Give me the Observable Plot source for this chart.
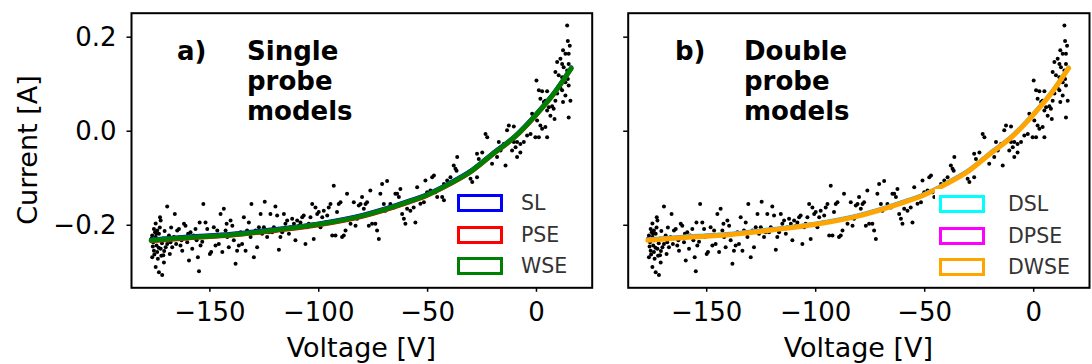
<!DOCTYPE html>
<html>
<head>
<meta charset="utf-8">
<script src="https://cdn.jsdelivr.net/npm/d3@7"></script>
<script src="https://cdn.jsdelivr.net/npm/@observablehq/plot@0.6"></script>
<style>
  html, body { margin: 0; padding: 0; background: #fff; }
  #fig { position: relative; width: 1092px; height: 364px; font-family: "DejaVu Sans", sans-serif; color: #000; overflow: hidden; }
  #fig svg { position: absolute; top: 0; }
  .lbl { position: absolute; white-space: nowrap; font-size: 27px; line-height: 1; }
  .ann { position: absolute; font-weight: bold; font-size: 26px; line-height: 30px; white-space: pre; }
  .legend { position: absolute; background: #fff; }
  .legend .row { position: absolute; left: 0; height: 18px; }
  .legend .sw { position: absolute; left: 4px; width: 40px; height: 12px; border: 3px solid; background: #fff; }
  .legend .tx { position: absolute; top: -2px; font-size: 20.5px; color: #333; line-height: 22px; }
</style>
</head>
<body>
<div id="fig"></div>
<script>
// ---- measured data (Voltage [V], Current [A]) ----
const voltage = [
-169.6,-172.9,-172.6,-174.9,-175.7,-174.2,-176.5,-174.9,-173.4,-176.0,-174.5,-175.7,-174.2,-172.6,-176.5,-173.9,-174.9,-173.4,-171.9,-171.1,
-171.4,-170.3,-169.6,-168.8,-168.1,-167.3,-166.5,-168.4,-166.1,-165.0,-164.2,-163.5,-162.7,-161.9,-162.7,-161.2,-160.4,-159.6,-158.9,-158.1,
-156.6,-156.1,-155.5,-155.0,-154.3,-153.0,-154.7,-152.0,-151.2,-150.9,-150.0,-149.4,-148.2,-147.4,-146.6,-145.9,-145.1,-144.3,-143.6,-142.8,
-142.3,-142.0,-141.3,-140.5,-139.7,-139.0,-138.2,-137.5,-136.7,-135.9,-135.2,-134.4,-133.6,-132.9,-132.1,-131.3,-130.9,-129.8,-129.0,-128.3,
-127.5,-126.7,-126.0,-125.2,-124.8,-123.7,-122.9,-122.2,-121.4,-120.6,-119.9,-119.1,-118.3,-117.6,-116.8,-116.0,-115.3,-114.5,-113.7,-113.0,
-112.2,-111.4,-110.7,-109.9,-109.1,-108.4,-107.6,-106.9,-106.1,-105.3,-104.6,-103.8,-103.0,-102.3,-101.5,-100.7,-100.0,-99.2,-98.4,-97.7,
-96.9,-96.1,-95.4,-94.6,-93.8,-93.1,-92.3,-91.6,-90.8,-90.0,-89.3,-88.5,-87.7,-87.0,-85.4,-83.9,-83.1,-82.4,-81.6,-80.8,
-80.1,-79.3,-78.5,-77.8,-77.0,-76.3,-75.5,-74.0,-73.2,-72.4,-71.7,-70.9,-70.1,-69.4,-68.6,-67.1,-65.5,-64.8,-64.0,-63.2,
-62.5,-61.7,-60.9,-60.2,-59.4,-57.9,-56.4,-55.6,-54.8,
-27.3,-26.5,-27.3,-28.8,-29.5,-31.8,-30.3,-29.5,-33.4,-34.9,-36.4,-38.0,-37.2,-36.7,-39.5,-41.0,-42.5,-43.3,-42.5,-45.6,
-46.4,-47.1,-47.9,-48.7,-50.2,-51.0,-51.7,-53.3,
14.1,14.4,15.3,12.2,13.3,14.8,11.0,9.5,11.8,14.8,12.5,14.1,8.7,10.2,11.8,14.4,13.3,14.8,11.0,11.8,
9.5,13.3,15.6,12.2,14.8,8.7,7.9,7.2,8.3,6.4,4.9,3.4,0.0,1.1,2.6,4.9,1.8,4.1,5.7,-1.2,
-2.0,0.3,1.8,2.6,4.1,4.9,1.1,-0.5,-2.7,-4.3,-5.8,-7.4,-8.9,-10.4,-9.6,-11.2,-7.4,-8.9,-10.4,-12.7,
-13.5,-15.0,-16.5,-17.3,-18.1,-19.6,-20.4,-21.9,-22.6,-23.4,-24.9,-14.2,
-175.2,-173.0,-171.5,-176.2,-174.0,-172.0,-170.8,-175.5,-173.5,-171.0,-176.8,-174.6,-172.3,-169.0,-167.8,-165.5,-163.0,-160.0,-157.5,-153.5
];
const current = [
-0.160,-0.183,-0.190,-0.196,-0.208,-0.211,-0.222,-0.225,-0.218,-0.236,-0.243,-0.254,-0.257,-0.250,-0.268,-0.271,-0.289,-0.300,-0.306,-0.279,
-0.264,-0.247,-0.240,-0.222,-0.236,-0.247,-0.225,-0.261,-0.176,-0.211,-0.208,-0.243,-0.225,-0.197,-0.254,-0.201,-0.236,-0.275,-0.215,-0.250,
-0.208,-0.232,-0.268,-0.298,-0.243,-0.155,-0.194,-0.194,-0.208,-0.225,-0.261,-0.257,-0.204,-0.243,-0.211,-0.240,-0.176,-0.257,-0.165,-0.211,
-0.197,-0.225,-0.247,-0.190,-0.201,-0.232,-0.282,-0.254,-0.243,-0.215,-0.240,-0.183,-0.254,-0.211,-0.194,-0.225,-0.155,-0.268,-0.211,-0.247,
-0.204,-0.176,-0.218,-0.204,-0.150,-0.225,-0.215,-0.176,-0.215,-0.204,-0.160,-0.179,-0.252,-0.225,-0.215,-0.176,-0.197,-0.190,-0.218,-0.204,
-0.186,-0.197,-0.232,-0.190,-0.201,-0.194,-0.183,-0.179,-0.240,-0.204,-0.197,-0.183,-0.155,-0.229,-0.162,-0.176,-0.172,-0.204,-0.183,-0.169,
-0.194,-0.179,-0.162,-0.155,-0.222,-0.116,-0.222,-0.172,-0.155,-0.151,-0.225,-0.222,-0.211,-0.133,-0.197,-0.151,-0.201,-0.186,-0.158,-0.155,
-0.140,-0.165,-0.155,-0.151,-0.201,-0.126,-0.197,-0.197,-0.211,-0.229,-0.133,-0.112,-0.155,-0.169,-0.106,-0.155,-0.162,-0.133,-0.133,-0.140,
-0.123,-0.176,-0.186,-0.197,-0.165,-0.169,-0.162,-0.194,-0.119,
-0.048,-0.059,-0.098,-0.080,-0.084,-0.091,-0.101,-0.108,-0.094,-0.098,-0.055,-0.073,-0.080,-0.084,-0.098,-0.105,-0.112,-0.140,-0.147,-0.140,
-0.130,-0.094,-0.098,-0.126,-0.130,-0.105,-0.151,-0.154,
0.225,0.192,0.182,0.172,0.165,0.165,0.154,0.147,0.143,0.143,0.136,0.129,0.126,0.119,0.115,0.111,0.104,0.097,0.092,0.087,
0.080,0.076,0.065,0.062,0.029,0.065,0.048,0.053,0.026,0.033,0.044,0.062,0.108,0.087,0.085,0.085,0.069,0.065,0.051,0.033,
0.037,0.023,0.012,0.005,0.009,-0.013,-0.013,-0.013,-0.006,-0.009,-0.023,-0.027,-0.023,-0.023,-0.034,-0.041,-0.045,-0.055,0.010,0.012,
0.002,-0.027,-0.041,-0.023,-0.055,-0.045,-0.069,-0.055,-0.013,-0.006,-0.045,-0.073,
-0.215,-0.205,-0.228,-0.245,-0.232,-0.238,-0.212,-0.262,-0.248,-0.255,-0.228,-0.218,-0.265,-0.230,-0.205,-0.240,-0.232,-0.218,-0.222,-0.235
];

// ---- fitted model curves ----
const fitVoltage = [-177, -160, -140, -120, -100, -80, -60, -50, -40, -30, -20, -10, 0, 8, 16];
const fitSL   = [-0.2295,-0.2235,-0.2175,-0.2075,-0.1955,-0.1775,-0.1495,-0.1325,-0.1095,-0.0825,-0.0455,-0.0095,0.0385,0.0825,0.1365];
const fitPSE  = [-0.2345,-0.2285,-0.2225,-0.2125,-0.2005,-0.1825,-0.1545,-0.1375,-0.1145,-0.0875,-0.0505,-0.0145,0.0335,0.0775,0.1315];
const fitWSE  = [-0.232,-0.226,-0.220,-0.210,-0.198,-0.180,-0.152,-0.135,-0.112,-0.085,-0.048,-0.012,0.036,0.080,0.134];
const fitDSL  = [-0.2295,-0.2235,-0.2175,-0.2075,-0.1955,-0.1775,-0.1495,-0.1325,-0.1095,-0.0825,-0.0455,-0.0095,0.0385,0.0825,0.1365];
const fitDPSE = [-0.2305,-0.2245,-0.2185,-0.2085,-0.1965,-0.1785,-0.1505,-0.1335,-0.1105,-0.0835,-0.0465,-0.0105,0.0375,0.0815,0.1355];
const fitDWSE = [-0.232,-0.226,-0.220,-0.210,-0.198,-0.180,-0.152,-0.135,-0.112,-0.085,-0.048,-0.012,0.036,0.080,0.134];

const xTicks = [-150, -100, -50, 0];
const yTicks = [-0.2, 0.0, 0.2];
const xDomain = [-186, 25.6];
const yDomain = [-0.333, 0.251];

const leftModels = [
  {name: "SL", color: "#0000ff", values: fitSL, width: 3.5},
  {name: "PSE", color: "#ff0000", values: fitPSE, width: 3.5},
  {name: "WSE", color: "#008000", values: fitWSE, width: 5}
];
const rightModels = [
  {name: "DSL", color: "#00ffff", values: fitDSL, width: 3.5},
  {name: "DPSE", color: "#ff00ff", values: fitDPSE, width: 3.5},
  {name: "DWSE", color: "#ffa500", values: fitDWSE, width: 5}
];

const points = voltage.map((v, i) => ({v, c: current[i]}));

function panel(models, opts) {
  const marks = [
    Plot.dot(points, {x: "v", y: "c", r: 2, fill: "black", stroke: "none"})
  ];
  for (const m of models) {
    const rows = fitVoltage.map((v, i) => ({v, c: m.values[i]}));
    marks.push(Plot.line(rows, {x: "v", y: "c", stroke: m.color, strokeWidth: m.width, curve: "monotone-x"}));
  }
  marks.push(Plot.axisX({ticks: xTicks, tickSize: 4.5, tickPadding: 10, fontSize: 26, strokeWidth: 1.5,
    tickFormat: d3.format("d"), label: null}));
  marks.push(Plot.axisY({ticks: yTicks, tickSize: 4.5, tickPadding: 10.5, fontSize: 26, strokeWidth: 1.5,
    tickFormat: opts.yLabels ? d3.format(".1f") : () => "", label: null}));
  marks.push(Plot.frame({stroke: "black", strokeWidth: 2}));
  const svg = Plot.plot({
    width: opts.width, height: 364,
    marginLeft: opts.ml, marginRight: opts.mr, marginTop: 12.7, marginBottom: 76.7,
    x: {domain: xDomain},
    y: {domain: yDomain},
    style: {fontFamily: "DejaVu Sans, sans-serif", fontSize: "26px", color: "black", background: "transparent"},
    marks
  });
  svg.style.left = opts.left + "px";
  return svg;
}

const fig = document.getElementById("fig");
fig.appendChild(panel(leftModels, {width: 600, ml: 131, mr: 8.3, left: 0, yLabels: true}));
fig.appendChild(panel(rightModels, {width: 492, ml: 27.7, mr: 3, left: 600, yLabels: false}));

function addText(cls, txt, x, y, extra) {
  const d = document.createElement("div");
  d.className = cls;
  d.textContent = txt;
  d.style.left = x + "px";
  d.style.top = y + "px";
  if (extra) Object.assign(d.style, extra);
  fig.appendChild(d);
  return d;
}

// axis titles
addText("lbl", "Voltage [V]", 361.4, 334, {transform: "translateX(-50%)"});
addText("lbl", "Voltage [V]", 858.4, 334, {transform: "translateX(-50%)"});
addText("lbl", "Current [A]", 27, 150, {transform: "translate(-50%, -50%) rotate(-90deg)"});

// panel annotations
addText("ann", "a)", 177, 36);
addText("ann", "Single\nprobe\nmodels", 247, 36);
addText("ann", "b)", 675, 36);
addText("ann", "Double\nprobe\nmodels", 744, 36);

// legends
function legend(models, x, y, w, h, textX) {
  const L = document.createElement("div");
  L.className = "legend";
  Object.assign(L.style, {left: x + "px", top: y + "px", width: w + "px", height: h + "px"});
  models.forEach((m, i) => {
    const row = document.createElement("div");
    row.className = "row";
    row.style.top = (6 + i * 31.5) + "px";
    const sw = document.createElement("div");
    sw.className = "sw";
    sw.style.borderColor = m.color;
    row.appendChild(sw);
    const tx = document.createElement("div");
    tx.className = "tx";
    tx.style.left = textX + "px";
    tx.textContent = m.name;
    row.appendChild(tx);
    L.appendChild(row);
  });
  fig.appendChild(L);
}
legend(leftModels, 453, 188, 136, 96, 68);
legend(rightModels, 935, 189, 150, 96, 73);
</script>
</body>
</html>
